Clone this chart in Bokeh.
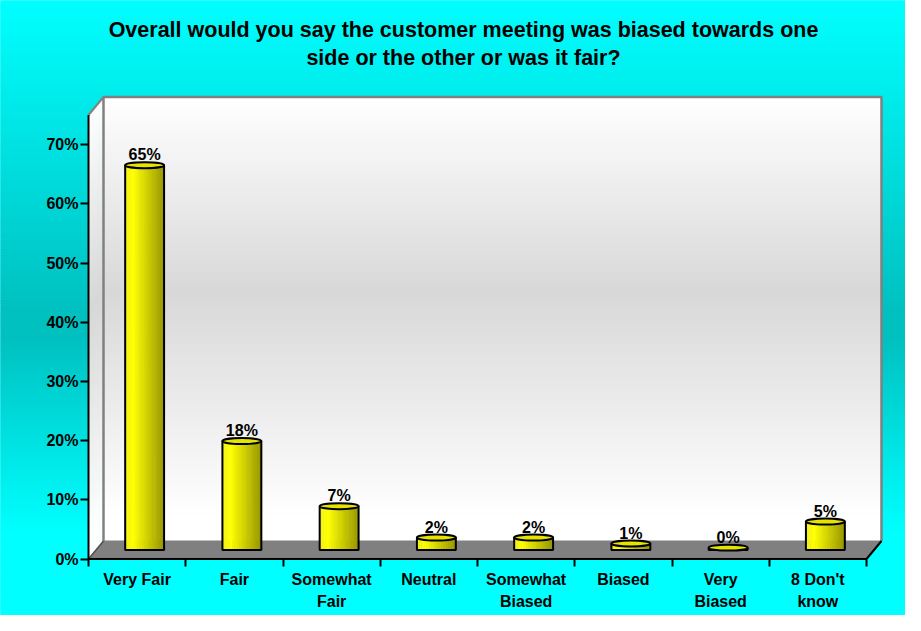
import numpy as np
from bokeh.plotting import figure
from bokeh.models import Range1d, FixedTicker, LinearAxis
from bokeh.core.properties import value
from bokeh.embed import file_html
from bokeh.resources import INLINE

# ---------------- data ----------------
title_lines = ["Overall would you say the customer meeting was biased towards one",
               "side or the other or was it fair?"]
categories = ["Very Fair", "Fair", "Somewhat\nFair", "Neutral", "Somewhat\nBiased",
              "Biased", "Very\nBiased", "8 Don't\nknow"]
percent = [65.0, 18.4, 7.4, 2.1, 2.1, 1.1, 0.4, 4.8]
y_ticks = [0, 10, 20, 30, 40, 50, 60, 70]
y_tick_labels = ["0%", "10%", "20%", "30%", "40%", "50%", "60%", "70%"]

# ---------------- layout (pixels) ----------------
W, H = 905, 615
PAGE = 8
X0, Y0 = 96.0, 566.5      # screen position of the front origin of the 3D box
CAT_PX = 97.25            # px per category
PCT_PX = 5.92             # px per percent
DX = 15 / CAT_PX          # depth offset (x units)
DY = 18 / PCT_PX          # depth offset (y units)
AXIS_TOP = 75.0
FONT = "Liberation Sans"


def px_x(sx):
    return (sx - X0) / CAT_PX


def px_y(sy):
    return (Y0 - sy) / PCT_PX


def interp(stops, t):
    for (p0, c0), (p1, c1) in zip(stops[:-1], stops[1:]):
        if t <= p1:
            f = 0.0 if p1 == p0 else (t - p0) / (p1 - p0)
            f = min(max(f, 0.0), 1.0)
            return "#%02x%02x%02x" % tuple(int(round(a + (b - a) * f)) for a, b in zip(c0, c1))
    return "#%02x%02x%02x" % stops[-1][1]


n = len(categories)
p = figure(width=W, height=H,
           x_range=Range1d(px_x(PAGE), px_x(PAGE + W)),
           y_range=Range1d(px_y(PAGE + H), px_y(PAGE)),
           output_backend="svg", toolbar_location=None,
           x_axis_type=None, y_axis_type=None, min_border=0)
p.outline_line_color = None
p.background_fill_color = "#00FFFF"
p.border_fill_color = "#00FFFF"

# background gradient
bg_stops = [(PAGE, (0, 255, 255)), (320, (0, 192, 192)), (345, (0, 192, 192)),
            (540, (0, 255, 255)), (PAGE + H, (0, 255, 255))]
step = 3
sys_ = np.arange(PAGE, PAGE + H, step)
bg_cols = [interp(bg_stops, s + step / 2) for s in sys_]
p.quad(left=px_x(PAGE), right=px_x(PAGE + W),
       top=[px_y(s) for s in sys_], bottom=[px_y(s + step) for s in sys_],
       fill_color=bg_cols, line_color=bg_cols, line_width=1)

# walls
wall_top_px = Y0 - (AXIS_TOP + DY) * PCT_PX
wall_bot_px = Y0 - DY * PCT_PX
wall_stops = [(wall_top_px, (255, 255, 255)), (300, (216, 216, 216)), (525, (255, 255, 255)),
              (600, (255, 255, 255))]
wsy = np.arange(wall_top_px, wall_bot_px, step)
w_cols = [interp(wall_stops, s + step / 2) for s in wsy]
w_top = [px_y(s) for s in wsy]
w_bot = [max(px_y(s + step), DY) for s in wsy]
p.quad(left=DX, right=n + DX, top=w_top, bottom=w_bot,
       fill_color=w_cols, line_color=w_cols, line_width=1)
p.patches(xs=[[0, DX, DX, 0] for _ in wsy],
          ys=[[b - DY, b, t, t - DY] for b, t in zip(w_bot, w_top)],
          fill_color=w_cols, line_color=w_cols, line_width=1)

# floor
p.patch([0, n, n + DX, DX], [0, 0, DY, DY], fill_color="#808080", line_color="#808080")

# wall edges
p.line([DX, DX, n + DX, n + DX], [DY, AXIS_TOP + DY, AXIS_TOP + DY, DY],
       line_color="#808080", line_width=2.5)
p.line([0, DX], [AXIS_TOP, AXIS_TOP + DY], line_color="#808080", line_width=2)
p.line([0, DX], [0, DY], line_color="#505050", line_width=1.5)

# bars (cylinders at mid depth)
bar_x = np.arange(n) + 0.5 + DX / 2
base = DY / 2
tops = np.array(percent) + base
BAR_W = 0.4
ELL_H = 1.0
NS = 16
bar_stops = [(0.0, (240, 240, 30)), (0.22, (255, 255, 0)), (1.0, (150, 150, 0))]
L, R, B, T, C = [], [], [], [], []
for i in range(n):
    for j in range(NS):
        L.append(bar_x[i] - BAR_W / 2 + j * BAR_W / NS)
        R.append(bar_x[i] - BAR_W / 2 + (j + 1) * BAR_W / NS)
        B.append(base)
        T.append(tops[i])
        C.append(interp(bar_stops, (j + 0.5) / NS))
p.quad(left=L, right=R, top=T, bottom=B, fill_color=C, line_color=C, line_width=0.6)
p.quad(left=bar_x - BAR_W / 2, right=bar_x + BAR_W / 2, bottom=base, top=tops,
       fill_color=None, line_color="black", line_width=2)
p.ellipse(x=bar_x, y=tops, width=BAR_W, height=ELL_H,
          fill_color="#E4E400", line_color="black", line_width=2)

# data labels
p.text(x=bar_x, y=tops + ELL_H / 2 + 7.5 / PCT_PX, text=[f"{round(v)}%" for v in percent],
       text_align="center", text_baseline="middle",
       text_font=value(FONT), text_font_style="bold", text_font_size="16px",
       text_color="black")

# front axis lines
p.line([0, 0, n, n + DX], [AXIS_TOP, 0, 0, DY], line_color="black", line_width=2)

# title
p.text(x=[px_x(471)] * 2, y=[px_y(37.5), px_y(65.5)], text=title_lines,
       text_align="center", text_baseline="middle",
       text_font=value(FONT), text_font_style="bold", text_font_size="21.5px",
       text_color="black")

# axes
yaxis = LinearAxis(fixed_location=0, ticker=FixedTicker(ticks=y_ticks, minor_ticks=[]),
                   major_label_overrides=dict(zip(y_ticks, y_tick_labels)))
yaxis.axis_line_color = None
yaxis.major_tick_line_color = "black"
yaxis.major_tick_line_width = 2
yaxis.major_tick_in = 0
yaxis.major_tick_out = 8
yaxis.minor_tick_line_color = None
yaxis.major_label_standoff = 2
yaxis.major_label_text_font = FONT
yaxis.major_label_text_font_style = "bold"
yaxis.major_label_text_font_size = "16px"
yaxis.major_label_text_color = "black"
p.add_layout(yaxis, "left")

centers = [i + 0.5 for i in range(n)]
xaxis = LinearAxis(fixed_location=0,
                   ticker=FixedTicker(ticks=centers, minor_ticks=list(range(n + 1))),
                   major_label_overrides=dict(zip(centers, categories)))
xaxis.axis_line_color = None
xaxis.major_tick_line_color = None
xaxis.major_tick_in = 0
xaxis.major_tick_out = 7
xaxis.minor_tick_line_color = "black"
xaxis.minor_tick_line_width = 2
xaxis.minor_tick_in = 0
xaxis.minor_tick_out = 7
xaxis.major_label_standoff = 5
xaxis.major_label_text_font = FONT
xaxis.major_label_text_font_style = "bold"
xaxis.major_label_text_font_size = "16px"
xaxis.major_label_text_color = "black"
xaxis.major_label_text_line_height = 1.3
p.add_layout(xaxis, "below")

open("out.html", "w").write(file_html(p, INLINE))
